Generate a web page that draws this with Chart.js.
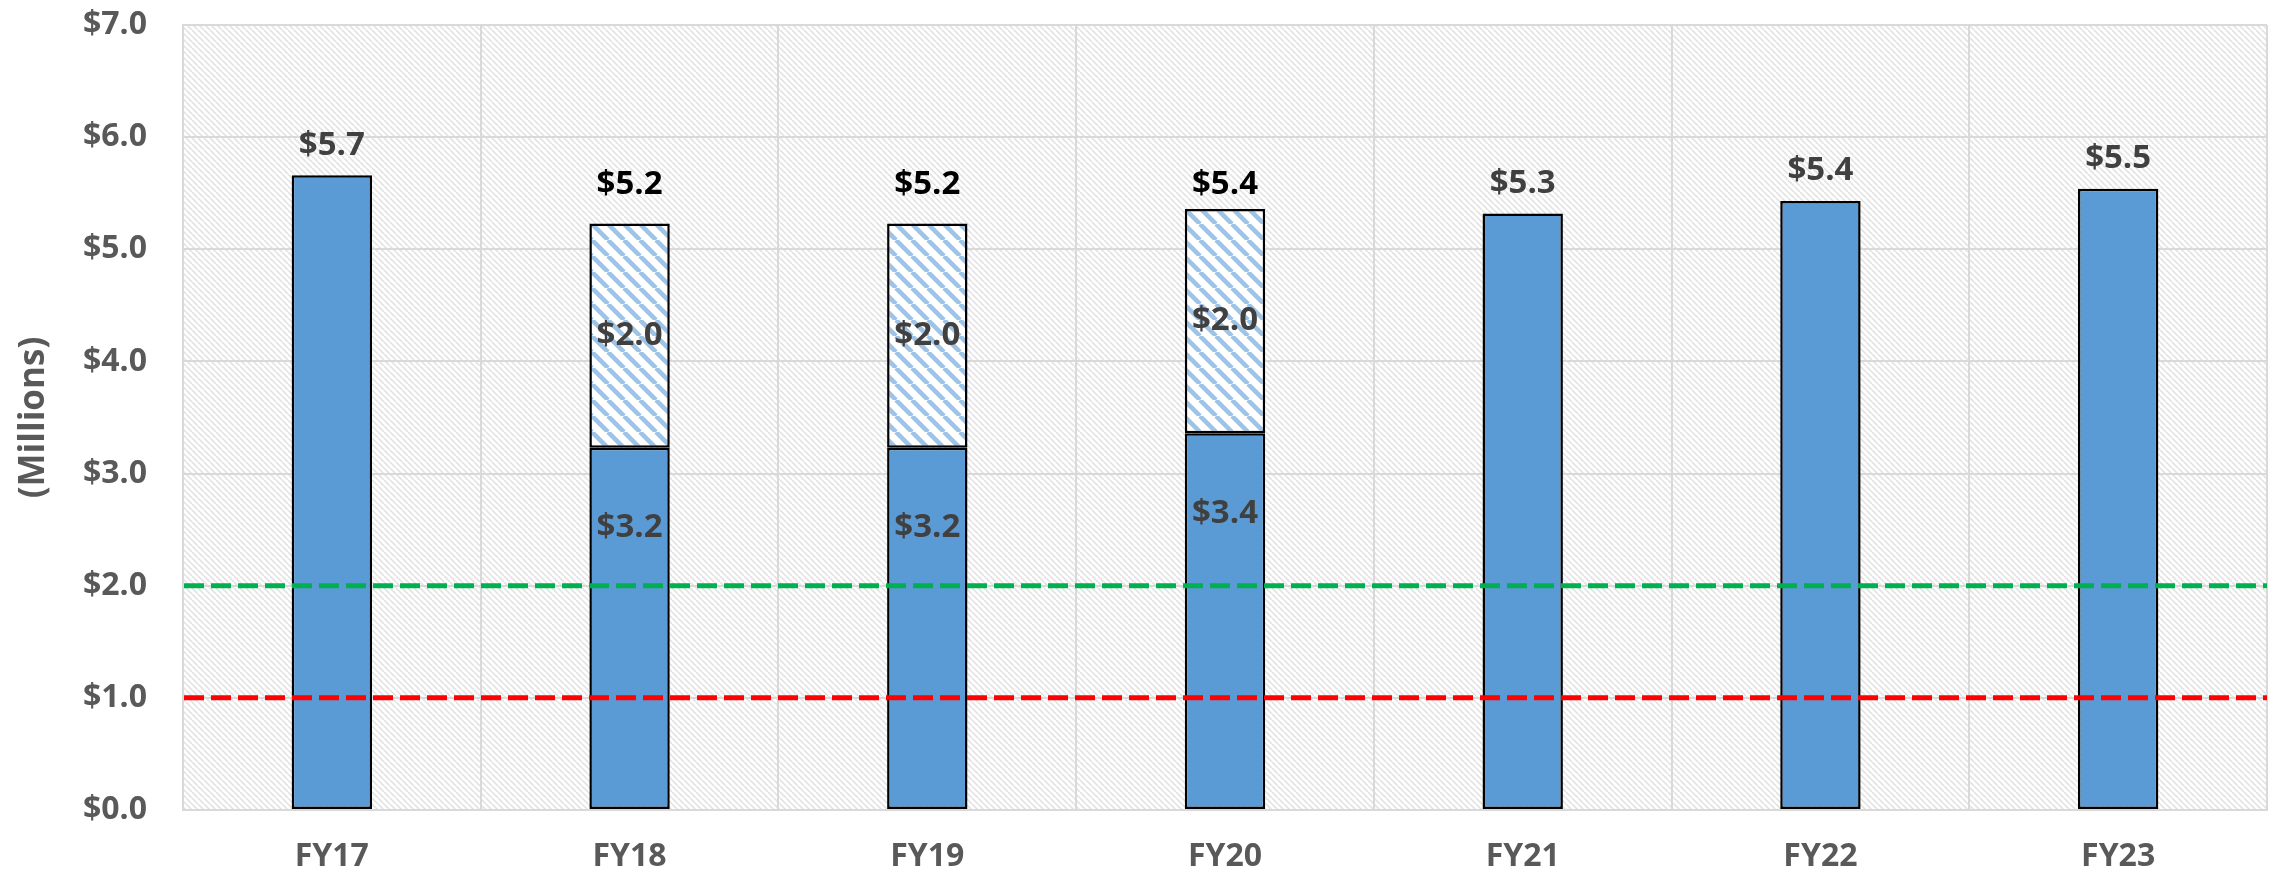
<!DOCTYPE html>
<html>
<head>
<meta charset="utf-8">
<script src="https://cdn.jsdelivr.net/npm/chart.js@4"></script>
<style>
html, body { margin: 0; padding: 0; background: #fff; }
#wrap { width: 2282px; height: 877px; }
</style>
</head>
<body>
<div id="wrap"><canvas id="chart_content"></canvas></div>
<script>
var canvasElement = document.getElementById("chart_content");

// chart values (millions)
const years = ["FY17", "FY18", "FY19", "FY20", "FY21", "FY22", "FY23"];
const baseFunding = [5.66, 3.23, 3.23, 3.36, 5.32, 5.43, 5.54];
const extraFunding = [null, 2.0, 2.0, 2.0, null, null, null];
const yTicks = [0, 1, 2, 3, 4, 5, 6, 7];
const refLevels = [2.0, 1.0];
const refColors = ["#00B050", "#FF0000"];

const FONT = "'Open Sans', 'DejaVu Sans', sans-serif";

function money(v) {
	return "$" + v.toFixed(1);
}

function makeHatch(size, color, width) {
	var c = document.createElement("canvas");
	c.width = size;
	c.height = size;
	var g = c.getContext("2d");
	g.fillStyle = "#ffffff";
	g.fillRect(0, 0, size, size);
	g.strokeStyle = color;
	g.lineWidth = width;
	g.beginPath();
	for (var o = -size; o <= size; o += size) {
		g.moveTo(o, 0);
		g.lineTo(o + size, size);
	}
	g.stroke();
	return canvasElement.getContext("2d").createPattern(c, "repeat");
}

var bgPattern = makeHatch(6, "#E4E4E4", 1.8);
var barPattern = makeHatch(16, "#9DC3E6", 4.5);

var hatchBackground = {
	id: "hatchBackground",
	beforeDraw: function(chart) {
		var a = chart.chartArea, ctx = chart.ctx;
		ctx.save();
		ctx.fillStyle = bgPattern;
		ctx.fillRect(a.left, a.top, a.right - a.left, a.bottom - a.top);
		ctx.restore();
	}
};

var refLines = {
	id: "refLines",
	afterDatasetsDraw: function(chart) {
		var a = chart.chartArea, ctx = chart.ctx, ys = chart.scales.y;
		ctx.save();
		ctx.lineWidth = 5;
		ctx.setLineDash([20, 7]);
		refLevels.forEach(function(v, i) {
			var py = ys.getPixelForValue(v);
			ctx.strokeStyle = refColors[i];
			ctx.beginPath();
			ctx.moveTo(a.left + 1, py);
			ctx.lineTo(a.right, py);
			ctx.stroke();
		});
		ctx.restore();
	}
};

var barLabels = {
	id: "barLabels",
	afterDatasetsDraw: function(chart) {
		var ctx = chart.ctx;
		var base = chart.getDatasetMeta(0).data;
		var extra = chart.getDatasetMeta(1).data;
		function txt(s, x, y, color) {
			ctx.fillStyle = color;
			ctx.fillText(s, x, y);
		}
		// stacked totals sit on one common line above the tallest stack
		var totalY = Infinity;
		years.forEach(function(y, i) {
			if (extraFunding[i] != null) totalY = Math.min(totalY, extra[i].y);
		});
		ctx.save();
		ctx.font = "bold 33px " + FONT;
		ctx.textAlign = "center";
		ctx.textBaseline = "middle";
		years.forEach(function(y, i) {
			var b = base[i];
			if (extraFunding[i] == null) {
				txt(money(baseFunding[i]), b.x, b.y - 30, "#404040");
			} else {
				var e = extra[i];
				txt(money(baseFunding[i]), b.x, b.y + 80, "#404040");
				txt(money(extraFunding[i]), e.x, (e.y + e.base) / 2, "#404040");
				txt(money(baseFunding[i] + extraFunding[i]), e.x, totalY - 24, "#000000");
			}
		});
		ctx.restore();
	}
};

function drawChart() {
	var config = {
		type: "bar",
		data: {
			labels: years,
			datasets: [{
				label: "Base",
				data: baseFunding,
				backgroundColor: "#5B9BD5",
				borderColor: "#000000",
				borderWidth: 2.5,
				borderSkipped: false
			}, {
				label: "Additional",
				data: extraFunding,
				backgroundColor: barPattern,
				borderColor: "#000000",
				borderWidth: 2.5,
				borderSkipped: false
			}]
		},
		options: {
			responsive: true,
			maintainAspectRatio: false,
			animation: false,
			categoryPercentage: 1,
			barPercentage: 0.27,
			layout: {
				padding: { top: 25, right: 15, bottom: 0, left: 13 }
			},
			plugins: {
				legend: { display: false },
				tooltip: { enabled: false }
			},
			scales: {
				x: {
					stacked: true,
					afterFit: function(axis) {
						axis.height = 67;
						axis.paddingTop = 0;
						axis.paddingBottom = 0;
					},
					grid: { color: "#D9D9D9", lineWidth: 2, drawTicks: false, offset: true },
					border: { color: "#D9D9D9", width: 2 },
					ticks: {
						color: "#595959",
						padding: 28,
						font: { family: FONT, size: 32, weight: "bold" }
					}
				},
				y: {
					stacked: true,
					min: 0,
					max: 7,
					afterBuildTicks: function(axis) {
						axis.ticks = yTicks.map(function(v) { return { value: v }; });
					},
					afterFit: function(axis) {
						axis.width = 170;
						axis.paddingTop = 0;
						axis.paddingBottom = 0;
					},
					grid: { color: "#D9D9D9", lineWidth: 2, drawTicks: false },
					border: { color: "#D9D9D9", width: 2 },
					ticks: {
						color: "#595959",
						padding: 36,
						font: { family: FONT, size: 32, weight: "bold" },
						callback: function(v) { return money(v); }
					},
					title: {
						display: true,
						text: "(Millions)",
						color: "#595959",
						padding: { top: 0, bottom: 0 },
						font: { family: FONT, size: 35, weight: "bold" }
					}
				}
			}
		},
		plugins: [hatchBackground, refLines, barLabels]
	};
	new Chart(canvasElement, config);
}

drawChart();
</script>
</body>
</html>
